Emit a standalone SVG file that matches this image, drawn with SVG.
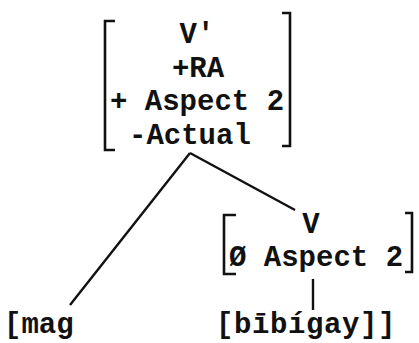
<svg xmlns="http://www.w3.org/2000/svg" width="419" height="343" viewBox="0 0 419 343">
<style>
text{font-family:"Liberation Mono","DejaVu Sans Mono",monospace;font-size:29px;font-weight:bold;fill:#111}
.br{fill:none;stroke:#111;stroke-width:2.6}
.ln{stroke:#111;stroke-width:2.4;fill:none}
</style>
<rect width="419" height="343" fill="#fff"/>
<g id="connectors">
<line class="ln" x1="190" y1="153" x2="70" y2="305"/>
<line class="ln" x1="190" y1="153" x2="295" y2="210"/>
<line class="ln" x1="313" y1="279" x2="313" y2="310"/>
</g>
<g id="node-vbar">
<path class="br" d="M115,21 L105,21 L105,150 L115,150"/>
<path class="br" d="M282,13 L290,13 L290,146 L282,146"/>
<text x="197" y="43" text-anchor="middle">V'</text>
<text x="198" y="77" text-anchor="middle">+RA</text>
<text x="110" y="110">+ Aspect 2</text>
<text x="129" y="144">-Actual</text>
</g>
<g id="node-v">
<path class="br" d="M236,215 L224,215 L224,274 L236,274"/>
<path class="br" d="M405,213 L412,213 L412,272 L405,272"/>
<text x="311" y="233" text-anchor="middle">V</text>
<text x="229" y="266">Ø Aspect 2</text>
</g>
<g id="node-mag">
<text x="4" y="333">[mag</text>
</g>
<g id="node-bibigay">
<text x="216" y="333" letter-spacing="0.6">[bībígay]]</text>
</g>
</svg>
